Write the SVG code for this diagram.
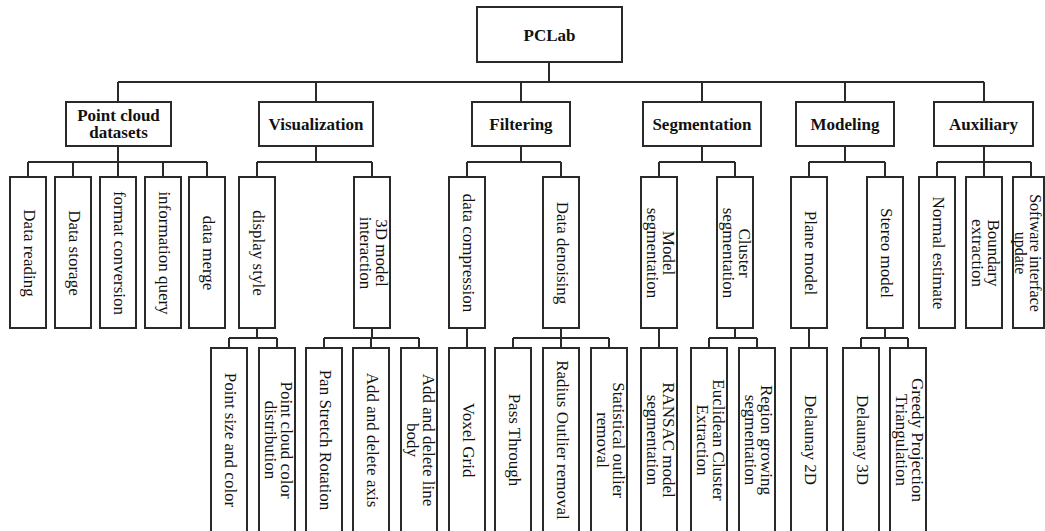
<svg xmlns="http://www.w3.org/2000/svg" width="1045" height="531" viewBox="0 0 1045 531">
<style>
rect{fill:#fff;stroke:#2a2a2a;stroke-width:2}
.c path{fill:none;stroke:#2a2a2a;stroke-width:2}
text{font-family:"Liberation Serif","Times New Roman",serif;font-size:17px;fill:#111;text-anchor:middle}
.b{font-weight:bold}
</style>
<rect x="0" y="0" width="1045" height="531" style="stroke:none"/>
<g class="c" id="connectors">
<path d="M549 62V82M118 82H984M118 82V102M316 82V102M521 82V102M702 82V102M845 82V102M984 82V102"/>
<path d="M118 146V162M28 162H207M28 162V177M73 162V177M118 162V177M163 162V177M207 162V177"/>
<path d="M316 146V162M257 162H372M257 162V177M372 162V177"/>
<path d="M521 146V162M467 162H561M467 162V177M561 162V177"/>
<path d="M702 146V162M659 162H735M659 162V177M735 162V177"/>
<path d="M845 146V162M809 162H885M809 162V177M885 162V177"/>
<path d="M984 146V162M937 162H1031M937 162V177M984 162V177M1031 162V177"/>
<path d="M257 328V338M229 338H277M229 338V348M277 338V348"/>
<path d="M372 328V338M324 338H419M324 338V348M371 338V348M419 338V348"/>
<path d="M467 328V348"/>
<path d="M561 328V338M513 338H609M513 338V348M561 338V348M609 338V348"/>
<path d="M659 328V348"/>
<path d="M735 328V338M709 338H757M709 338V348M757 338V348"/>
<path d="M809 328V348"/>
<path d="M885 328V338M861 338H908M861 338V348M908 338V348"/>
</g>
<g id="pclab"><rect x="477" y="7" width="145" height="55"/><text class="b" x="549.5" y="40.5">PCLab</text></g>
<g id="pcd"><rect x="66" y="102" width="105" height="44"/><text class="b" x="118.5" y="121">Point cloud</text><text class="b" x="118.5" y="138">datasets</text></g>
<g id="vis"><rect x="259" y="102" width="114" height="44"/><text class="b" x="316" y="130">Visualization</text></g>
<g id="fil"><rect x="472" y="102" width="98" height="44"/><text class="b" x="521" y="130">Filtering</text></g>
<g id="seg"><rect x="643" y="102" width="118" height="44"/><text class="b" x="702" y="130">Segmentation</text></g>
<g id="mod"><rect x="796" y="102" width="98" height="44"/><text class="b" x="845" y="130">Modeling</text></g>
<g id="aux"><rect x="934" y="102" width="99" height="44"/><text class="b" x="983.5" y="130">Auxiliary</text></g>

<g id="n-reading"><rect x="10" y="177" width="36" height="151"/><text transform="translate(28,253) rotate(90)" y="4.5">Data reading</text></g>
<g id="n-storage"><rect x="55" y="177" width="36" height="151"/><text transform="translate(73,253) rotate(90)" y="4.5">Data storage</text></g>
<g id="n-format"><rect x="100" y="177" width="36" height="151"/><text transform="translate(118,253) rotate(90)" y="4.5">format conversion</text></g>
<g id="n-query"><rect x="145" y="177" width="36" height="151"/><text transform="translate(163,253) rotate(90)" y="4.5">information query</text></g>
<g id="n-merge"><rect x="189" y="177" width="36" height="151"/><text transform="translate(207,253) rotate(90)" y="4.5">data merge</text></g>
<g id="n-display"><rect x="239" y="177" width="36" height="151"/><text transform="translate(257,253) rotate(90)" y="4.5">display style</text></g>
<g id="n-3d"><rect x="354" y="177" width="36" height="151"/><text transform="translate(372,253) rotate(90)"><tspan x="0" y="-4">3D model</tspan><tspan x="0" y="12">interaction</tspan></text></g>
<g id="n-compression"><rect x="449" y="177" width="36" height="151"/><text transform="translate(467,253) rotate(90)" y="4.5">data compression</text></g>
<g id="n-denoising"><rect x="543" y="177" width="36" height="151"/><text transform="translate(561,253) rotate(90)" y="4.5">Data denoising</text></g>
<g id="n-modelseg"><rect x="641" y="177" width="36" height="151"/><text transform="translate(659,253) rotate(90)"><tspan x="0" y="-4">Model</tspan><tspan x="0" y="12">segmentation</tspan></text></g>
<g id="n-clusterseg"><rect x="717" y="177" width="36" height="151"/><text transform="translate(735,253) rotate(90)"><tspan x="0" y="-4">Cluster</tspan><tspan x="0" y="12">segmentation</tspan></text></g>
<g id="n-plane"><rect x="791" y="177" width="36" height="151"/><text transform="translate(809,253) rotate(90)" y="4.5">Plane model</text></g>
<g id="n-stereo"><rect x="867" y="177" width="36" height="151"/><text transform="translate(885,253) rotate(90)" y="4.5">Stereo model</text></g>
<g id="n-normal"><rect x="919" y="177" width="36" height="151"/><text transform="translate(937,253) rotate(90)" y="4.5">Normal estimate</text></g>
<g id="n-boundary"><rect x="966" y="177" width="36" height="151"/><text transform="translate(984,253) rotate(90)"><tspan x="0" y="-4">Boundary</tspan><tspan x="0" y="12">extraction</tspan></text></g>
<g id="n-software"><rect x="1013" y="177" width="31" height="151"/><text transform="translate(1029,253) rotate(90)" style="font-size:16px"><tspan x="0" y="-1">Software interface</tspan><tspan x="0" y="14">update</tspan></text></g>

<g id="l-pointsize"><rect x="211" y="348" width="36" height="192"/><text transform="translate(229,440) rotate(90)" y="4.5">Point size and color</text></g>
<g id="l-colordist"><rect x="259" y="348" width="36" height="192"/><text transform="translate(277,440) rotate(90)"><tspan x="0" y="-4">Point cloud color</tspan><tspan x="0" y="12">distribution</tspan></text></g>
<g id="l-pan"><rect x="306" y="348" width="36" height="192"/><text transform="translate(324,440) rotate(90)" y="4.5">Pan Stretch Rotation</text></g>
<g id="l-axis"><rect x="353" y="348" width="36" height="192"/><text transform="translate(371,440) rotate(90)" y="4.5">Add and delete axis</text></g>
<g id="l-line"><rect x="401" y="348" width="36" height="192"/><text transform="translate(419,440) rotate(90)"><tspan x="0" y="-4">Add and delete line</tspan><tspan x="0" y="12">body</tspan></text></g>
<g id="l-voxel"><rect x="449" y="348" width="36" height="192"/><text transform="translate(467,440) rotate(90)" y="4.5">Voxel Grid</text></g>
<g id="l-pass"><rect x="495" y="348" width="36" height="192"/><text transform="translate(513,440) rotate(90)" y="4.5">Pass Through</text></g>
<g id="l-radius"><rect x="543" y="348" width="36" height="192"/><text transform="translate(561,440) rotate(90)" y="4.5">Radius Outlier removal</text></g>
<g id="l-stat"><rect x="591" y="348" width="36" height="192"/><text transform="translate(609,440) rotate(90)"><tspan x="0" y="-4">Statistical outlier</tspan><tspan x="0" y="12">removal</tspan></text></g>
<g id="l-ransac"><rect x="641" y="348" width="36" height="192"/><text transform="translate(659,440) rotate(90)"><tspan x="0" y="-4">RANSAC model</tspan><tspan x="0" y="12">segmentation</tspan></text></g>
<g id="l-euclid"><rect x="691" y="348" width="36" height="192"/><text transform="translate(709,440) rotate(90)"><tspan x="0" y="-4">Euclidean Cluster</tspan><tspan x="0" y="12">Extraction</tspan></text></g>
<g id="l-region"><rect x="739" y="348" width="36" height="192"/><text transform="translate(757,440) rotate(90)"><tspan x="0" y="-4">Region growing</tspan><tspan x="0" y="12">segmentation</tspan></text></g>
<g id="l-del2d"><rect x="791" y="348" width="36" height="192"/><text transform="translate(809,440) rotate(90)" y="4.5">Delaunay 2D</text></g>
<g id="l-del3d"><rect x="843" y="348" width="36" height="192"/><text transform="translate(861,440) rotate(90)" y="4.5">Delaunay 3D</text></g>
<g id="l-greedy"><rect x="890" y="348" width="36" height="192"/><text transform="translate(908,440) rotate(90)"><tspan x="0" y="-4">Greedy Projection</tspan><tspan x="0" y="12">Triangulation</tspan></text></g>
</svg>
